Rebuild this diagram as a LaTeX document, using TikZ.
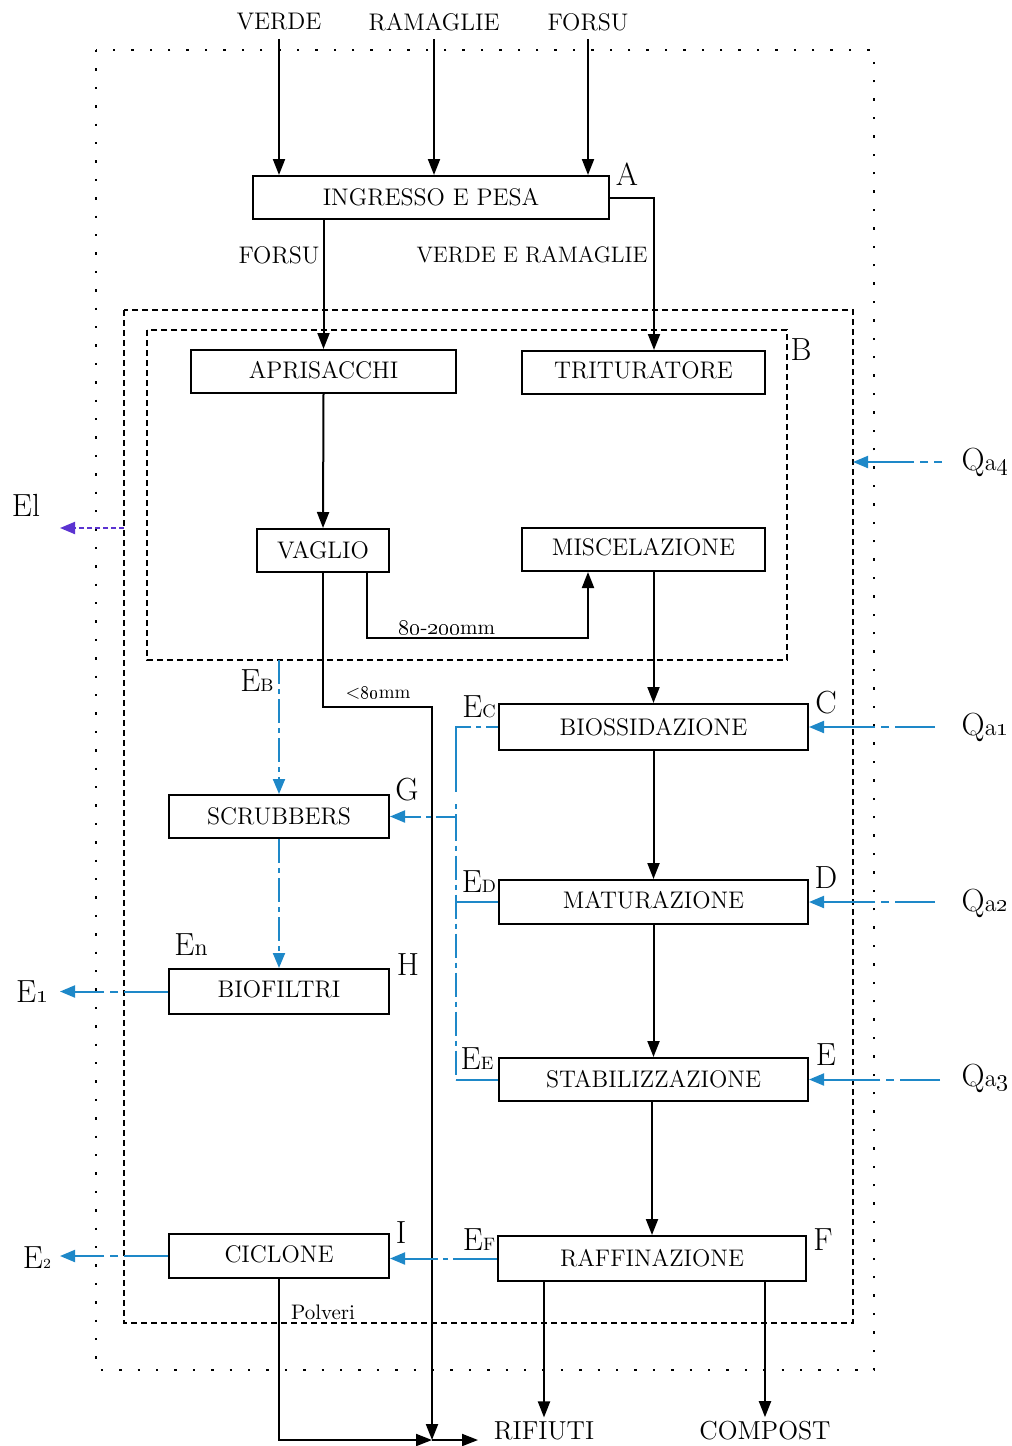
\documentclass[tikz,border=0pt]{standalone}
\usetikzlibrary{arrows.meta,calc}
\definecolor{cblue}{HTML}{1E88C8}
\definecolor{cpurp}{HTML}{5B33D1}
\newcommand\subs[1]{{\fontsize{9}{9}\selectfont #1}}
\newcommand\osn[1]{\oldstylenums{#1}}
\begin{document}
\begin{tikzpicture}[x=0.5pt,y=-0.5pt,
 box/.style={draw,line width=1pt,inner sep=0pt,font=\fontsize{12}{14}\selectfont},
 arr/.style={line width=1pt,-{Triangle[length=8pt,width=6pt]}},
 bdash/.style={cblue,line width=1pt,dash pattern=on 12pt off 2.5pt on 2.5pt off 2.5pt},
 barr/.style={bdash,-{Triangle[length=7.5pt,width=6pt]}},
 qarr/.style={cblue,line width=1pt,dash pattern=on 20pt off 3pt on 4pt off 3pt on 60pt off 1pt,-{Triangle[length=7.5pt,width=6pt]}},
 lbl/.style={font=\fontsize{12}{14}\selectfont,inner sep=0pt},
 small/.style={font=\fontsize{9.5}{11}\selectfont,inner sep=0pt},
 big/.style={font=\fontsize{16}{16}\selectfont,inner sep=0pt},
 dotbox/.style={line width=1.2pt,dash pattern=on 1.2pt off 8pt},
 dashbox/.style={line width=0.8pt,dash pattern=on 3pt off 2pt}]
\useasboundingbox (0,0) rectangle (1012,1446);

% frames
\draw[dotbox] (96,50) rectangle (874,1370);
\draw[dashbox] (124,310) rectangle (853,1323);
\draw[dashbox] (147,330) rectangle (787,660);

% boxes
\node[box,minimum width=178pt,minimum height=21.5pt] (ing) at (431,197.5) {INGRESSO E PESA};
\node[box,minimum width=132.5pt,minimum height=21.5pt] (apri) at (323.5,371.5) {\raisebox{2pt}{APRISACCHI}};
\node[box,minimum width=121.5pt,minimum height=21.5pt] (trit) at (643.5,372.5) {\raisebox{3pt}{TRITURATORE}};
\node[box,minimum width=66pt,minimum height=21.5pt] (vag) at (323,550.5) {VAGLIO};
\node[box,minimum width=121.5pt,minimum height=21.5pt] (misc) at (643.5,549.5) {\raisebox{3pt}{MISCELAZIONE}};
\node[box,minimum width=154.5pt,minimum height=23pt] (bio) at (653.5,727) {BIOSSIDAZIONE};
\node[box,minimum width=110pt,minimum height=21.5pt] (scr) at (279,816.5) {SCRUBBERS};
\node[box,minimum width=154.5pt,minimum height=22pt] (mat) at (653.5,902) {\raisebox{2pt}{MATURAZIONE}};
\node[box,minimum width=110pt,minimum height=22.5pt] (biof) at (279,991.5) {\raisebox{2pt}{BIOFILTRI}};
\node[box,minimum width=154.5pt,minimum height=21.5pt] (stab) at (653.5,1079.5) {STABILIZZAZIONE};
\node[box,minimum width=110pt,minimum height=22pt] (cic) at (279,1256) {\raisebox{2pt}{CICLONE}};
\node[box,minimum width=154pt,minimum height=22.5pt] (raf) at (652,1258.5) {RAFFINAZIONE};

% inputs
\node[lbl] (verde) at (279,22) {VERDE};
\node[lbl] (ram) at (434,22) {RAMAGLIE};
\node[lbl] (forsu) at (588,22) {FORSU};
\draw[arr] ([yshift=-4pt]verde.south) -- (verde.south |- ing.north);
\draw[arr] ([yshift=-4pt]ram.south) -- (ram.south |- ing.north);
\draw[arr] ([yshift=-4pt]forsu.south) -- (forsu.south |- ing.north);

% outputs
\node[lbl,font=\fontsize{13}{15}\selectfont] (rif) at (544,1431) {RIFIUTI};
\node[lbl,font=\fontsize{13}{15}\selectfont] (comp) at (765,1431) {COMPOST};

% letters
\node[big] (la) at (627,174) {A};
\node[big] (lb) at (801,350) {B};
\node[big] (lc) at (826,703) {C};
\node[big] (ld) at (826,878) {D};
\node[big] (le) at (826,1055) {E};
\node[big] (lf) at (823,1240) {F};
\node[big] (lg) at (407,790) {G};
\node[big] (lh) at (408,965) {H};
\node[big] (li) at (401,1233) {I};

% flow labels
\node[lbl] (tforsu) at (279,255) {FORSU};
\node[lbl,font=\fontsize{11.2}{13}\selectfont] (tvr) at (532,255) {VERDE E RAMAGLIE};
\node[small,font=\fontsize{10.5}{12}\selectfont] (t80200) at (447,627) {\osn{80}-\osn{200}mm};
\node[small] (t80) at (378,693) {<\osn{80}mm};
\node[small,font=\fontsize{10.5}{12}\selectfont] (tpol) at (323,1312) {Polveri};

% main connectors
\draw[arr] (ing.south -| apri.north) -- (apri.north);
\draw[arr] (ing.east) -| ([xshift=5.25pt]trit.north);
\draw[arr] (apri.south) -- (vag.north);
\coordinate (k1) at (450,638);
\draw[arr] ([xshift=22pt]vag.south) |- (k1) -| ([xshift=-27.75pt]misc.south);
\draw[arr] (bio.north |- misc.south) -- (bio.north);
\draw[arr] (bio.south) -- (mat.north);
\draw[arr] (mat.south) -- (stab.north);
\draw[arr] (stab.south -| raf.north) -- (raf.north);
\draw[arr] (raf.south -| rif.north) -- ([yshift=2pt]rif.north);
\draw[arr] (raf.south -| comp.north) -- ([yshift=2pt]comp.north);
\coordinate (k2) at (432,707);
\coordinate (k3) at (432,1440);
\coordinate (k4) at (478,1440);
\draw[arr] (vag.south) |- (k2) -- (k3);
\draw[arr] (cic.south) |- (k3);
\draw[arr] (k3) -- (k4);

% blue emissions
\node[big] (leb) at (257,681) {E\subs{B}};
\node[big] (lec) at (479,707) {E\subs{C}};
\node[big] (led) at (479,882) {E\subs{D}};
\node[big] (lee) at (477,1059) {E\subs{E}};
\node[big] (lef) at (479,1240) {E\subs{F}};
\node[big] (len) at (191,945) {E{\fontsize{12}{12}\selectfont n}};
\coordinate (eb) at (279,660);
\draw[barr] (eb) -- (scr.north);
\draw[barr] (scr.south) -- (biof.north);
\coordinate (ecx) at (456,727);
\draw[cblue,line width=1pt,dash pattern=on 6pt off 2.5pt on 2.5pt off 2.5pt on 40pt] (bio.west) -- (ecx) -- (ecx |- scr.east);
\draw[barr,dash pattern=on 10pt off 2.5pt on 2.5pt off 2.5pt on 20pt] (ecx |- scr.east) -- (scr.east);
\draw[bdash] (ecx |- scr.east) -- (ecx |- stab.west);
\draw[cblue,line width=1pt] (ecx |- stab.west) -- (stab.west);
\draw[cblue,line width=1pt] (ecx |- mat.west) -- (mat.west);
\draw[barr,dash pattern=on 22pt off 2.5pt on 2.5pt off 2.5pt on 40pt] (raf.west) -- (raf.west -| cic.east);

\node[big] (e1) at (32,992) {E{\fontsize{13}{13}\selectfont\osn{1}}};
\node[big] (e2) at (37,1258) {E{\fontsize{7}{7}\selectfont 2}};
\node[big] (el) at (26,505) {El};
\coordinate (x1) at (124,991.5);
\coordinate (x2) at (124,1256);
\draw[cblue,line width=1pt] (biof.west) -- (x1);
\draw[cblue,line width=1pt] (cic.west) -- (x2);
\draw[barr,dash pattern=on 0pt off 3pt on 4pt off 3pt on 40pt] (x1) -- (60,991.5);
\draw[barr,dash pattern=on 0pt off 3pt on 4pt off 3pt on 40pt] (x2) -- (60,1256);
\coordinate (elx) at (124,528);
\draw[cpurp,line width=1pt,dash pattern=on 2.5pt off 1.5pt,-{Triangle[length=7.5pt,width=6pt]}] (elx) -- (60,528);

% Q inputs
\node[big] (q1) at (985,727) {Q{\fontsize{12}{12}\selectfont a\osn{1}}};
\node[big] (q2) at (985,903) {Q{\fontsize{12}{12}\selectfont a\osn{2}}};
\node[big] (q3) at (985,1078) {Q{\fontsize{12}{12}\selectfont a\osn{3}}};
\node[big] (q4) at (985,462) {Q{\fontsize{12}{12}\selectfont a\osn{4}}};
\draw[qarr] (935,727) -- (bio.east);
\draw[qarr] (935,902) -- (mat.east);
\draw[qarr] (940,1079.5) -- (stab.east);
\draw[qarr,dash pattern=on 4pt off 3pt on 4pt off 3pt on 60pt] (942,462) -- (853,462);
\end{tikzpicture}
\end{document}
